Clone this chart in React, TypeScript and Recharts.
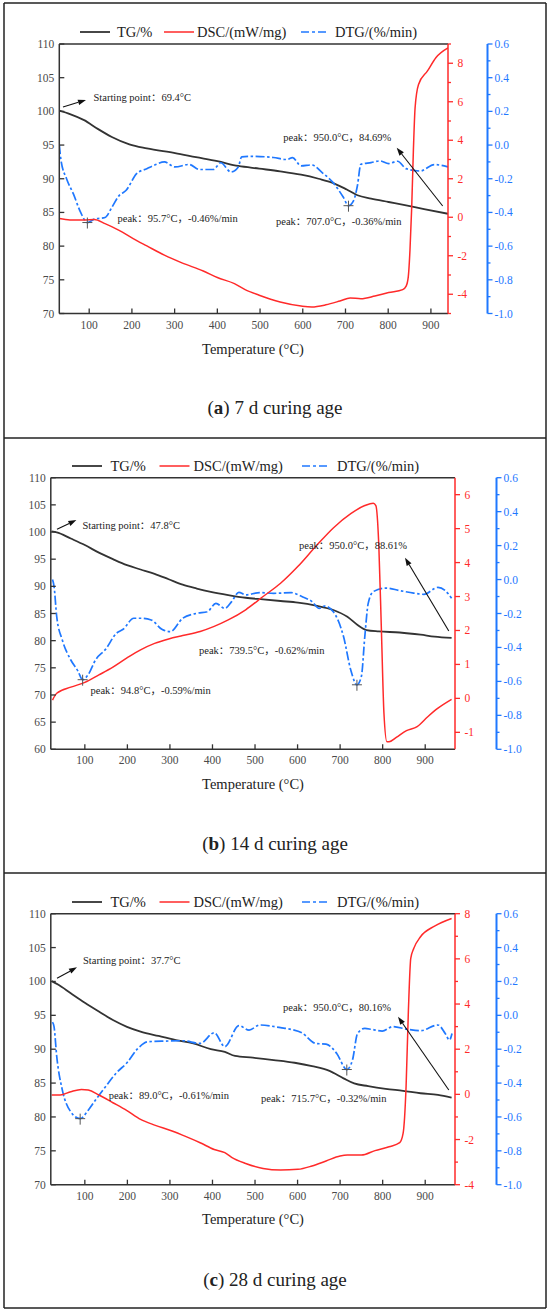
import React from 'react';
import { ComposedChart, Line, XAxis, YAxis, ReferenceLine, ReferenceDot } from 'recharts';

const SERIF = "'Liberation Serif', 'Noto Sans CJK SC', 'Times New Roman', serif";
const C_TG = '#333333';
const C_DSC = '#ff2a2a';
const C_DTG = '#1f78ff';
const C_AX = '#333333';
const C_LBL = '#4a4a4a';

// ---------- (a) 7 d ----------
const tg7 = [[30,100.1],[55,99.6],[88,98.7],[120,97.4],[153,96.2],[194,95.1],[235,94.5],[301,93.8],[350,93.2],[400,92.6],[449,91.9],[498,91.5],[547,91.1],[596,90.6],[637,90.0],[670,89.4],[703,88.4],[728,87.55],[760,87.05],[801,86.55],[842,86.05],[884,85.5],[940,84.8]];
const dsc7 = [[30,-0.07],[55,-0.14],[88,-0.14],[112,-0.12],[137,-0.33],[170,-0.68],[203,-1.11],[235,-1.49],[276,-1.97],[317,-2.37],[367,-2.79],[400,-3.13],[440,-3.45],[465,-3.76],[498,-4.05],[547,-4.4],[596,-4.61],[621,-4.66],[654,-4.55],[687,-4.35],[711,-4.19],[736,-4.23],[769,-4.09],[801,-3.91],[834,-3.76],[842,-3.58],[847,-3.1],[851,-1.7],[855,0.5],[859,3.5],[863,5.7],[871,6.9],[892,7.6],[912,8.3],[940,8.8]];
const dtg7 = [[30,0.0],[34,-0.09],[47,-0.2],[63,-0.29],[80,-0.4],[95.7,-0.46],[112,-0.44],[137,-0.43],[153,-0.37],[170,-0.3],[186,-0.27],[211,-0.17],[235,-0.14],[252,-0.12],[276,-0.1],[301,-0.13],[334,-0.115],[358,-0.145],[391,-0.145],[408,-0.105],[432,-0.16],[449,-0.13],[457,-0.07],[481,-0.067],[531,-0.074],[563,-0.086],[576,-0.074],[596,-0.124],[621,-0.118],[646,-0.165],[670,-0.22],[695,-0.31],[707,-0.36],[719,-0.33],[728,-0.24],[736,-0.114],[760,-0.104],[781,-0.094],[801,-0.11],[822,-0.096],[842,-0.14],[875,-0.154],[908,-0.116],[940,-0.13]];
const peaks7 = [[95.7,-0.46],[707.0,-0.36]];

// ---------- (b) 14 d ----------
const tg14 = [[22,100.1],[34,99.95],[67,98.8],[100,97.6],[133,96.2],[166,95.0],[199,93.9],[231,93.1],[264,92.3],[297,91.3],[330,90.3],[363,89.6],[396,89.0],[437,88.4],[478,87.9],[519,87.6],[560,87.3],[601,87.0],[643,86.45],[684,85.65],[717,84.4],[741,82.9],[762,81.95],[791,81.7],[840,81.5],[889,81.1],[922,80.75],[962,80.5]];
const dsc14 = [[24,-0.05],[34,0.15],[67,0.33],[100,0.47],[133,0.69],[166,0.92],[199,1.19],[231,1.43],[264,1.62],[297,1.75],[330,1.85],[371,1.97],[404,2.12],[437,2.31],[478,2.61],[519,3.0],[560,3.39],[601,3.89],[643,4.48],[684,5.02],[725,5.44],[758,5.68],[778,5.75],[784,5.68],[791,4.48],[797,2.02],[803,-0.44],[810,-1.28],[815,-1.28],[832,-1.15],[856,-0.95],[881,-0.83],[906,-0.54],[930,-0.29],[962,-0.03]];
const dtg14 = [[24,0.0],[27.6,-0.04],[34,-0.22],[47,-0.356],[67,-0.474],[84,-0.54],[94.8,-0.59],[108,-0.56],[125,-0.474],[149,-0.41],[174,-0.317],[190,-0.293],[215,-0.228],[231,-0.228],[256,-0.238],[281,-0.293],[301,-0.307],[330,-0.228],[363,-0.199],[388,-0.19],[408,-0.14],[429,-0.17],[445,-0.13],[462,-0.075],[478,-0.09],[511,-0.077],[544,-0.081],[585,-0.077],[610,-0.1],[634,-0.13],[651,-0.17],[663,-0.156],[684,-0.19],[708,-0.336],[725,-0.533],[739.5,-0.62],[750,-0.57],[758,-0.336],[766,-0.14],[778,-0.071],[807,-0.05],[840,-0.065],[873,-0.08],[897,-0.087],[930,-0.046],[947,-0.065],[962,-0.11]];
const peaks14 = [[94.8,-0.59],[739.5,-0.62]];

// ---------- (c) 28 d ----------
const tg28 = [[22,100.05],[38,99.5],[67,98.25],[100,96.85],[133,95.55],[166,94.3],[199,93.3],[231,92.6],[273,91.95],[314,91.35],[355,90.85],[396,90.0],[429,89.6],[453,89.0],[495,88.75],[544,88.4],[593,88.0],[634,87.5],[675,86.8],[708,85.7],[733,84.95],[766,84.55],[807,84.15],[848,83.85],[889,83.5],[930,83.25],[962,82.85]];
const dsc28 = [[22,-0.03],[42,-0.03],[67,0.12],[92,0.22],[108,0.19],[133,-0.03],[166,-0.37],[199,-0.72],[231,-1.11],[264,-1.36],[305,-1.62],[338,-1.87],[371,-2.14],[404,-2.44],[429,-2.58],[445,-2.79],[478,-3.06],[519,-3.28],[560,-3.35],[601,-3.32],[634,-3.17],[667,-2.95],[700,-2.73],[717,-2.69],[750,-2.69],[782,-2.49],[815,-2.32],[840,-2.14],[848,-1.73],[855,0.34],[860.5,3.73],[866,6.02],[873,6.46],[889,6.98],[922,7.45],[962,7.79]];
const dtg28 = [[24,-0.04],[27.6,-0.067],[34,-0.244],[47,-0.44],[67,-0.57],[89,-0.61],[108,-0.56],[125,-0.5],[149,-0.42],[174,-0.34],[199,-0.28],[223,-0.2],[248,-0.156],[289,-0.152],[330,-0.15],[371,-0.166],[404,-0.103],[429,-0.185],[462,-0.061],[486,-0.087],[511,-0.057],[560,-0.073],[585,-0.083],[610,-0.103],[643,-0.166],[667,-0.17],[692,-0.225],[715.7,-0.32],[729,-0.264],[741,-0.107],[758,-0.077],[774,-0.083],[799,-0.093],[823.5,-0.067],[856,-0.081],[889,-0.091],[930,-0.057],[947,-0.107],[957,-0.146],[963,-0.107]];
const peaks28 = [[89.0,-0.61],[715.7,-0.32]];

// ---------- ticks ----------
const xTicks = [100,200,300,400,500,600,700,800,900];
const tgTicks7 = [70,75,80,85,90,95,100,105,110];
const tgTicks14 = [60,65,70,75,80,85,90,95,100,105,110];
const tgTicks28 = [70,75,80,85,90,95,100,105,110];
const dscMajor7 = [-4,-2,0,2,4,6,8];
const dscMinor7 = [-5,-3,-1,1,3,5,7,9];
const dscMajor14 = [-1,0,1,2,3,4,5,6];
const dscMinor14: number[] = [];
const dscMajor28 = [-4,-2,0,2,4,6,8];
const dscMinor28 = [-3,-1,1,3,5,7];
const dtgMajor = [-1,-0.8,-0.6,-0.4,-0.2,0,0.2,0.4,0.6];
const dtgMinor = [-0.9,-0.7,-0.5,-0.3,-0.1,0.1,0.3,0.5];

const toPts = (arr: number[][]) => arr.map(([t, v]) => ({ t, v }));

const panels = [
  { top: 3, margin: { top: 41, right: 22.5, bottom: 94.5, left: 19.3 }, dscW: 39.5,
    xDomain: [30, 940], tgDomain: [70, 110], tgTicks: tgTicks7, dscDomain: [-5, 9],
    dscMajor: dscMajor7, dscMinor: dscMinor7, tg: tg7, dsc: dsc7, dtg: dtg7, peaks: peaks7 },
  { top: 438, margin: { top: 39.7, right: 13.5, bottom: 93.7, left: 10.8 }, dscW: 41.5,
    xDomain: [20, 970], tgDomain: [60, 110], tgTicks: tgTicks14, dscDomain: [-1.5, 6.5],
    dscMajor: dscMajor14, dscMinor: dscMinor14, tg: tg14, dsc: dsc14, dtg: dtg14, peaks: peaks14 },
  { top: 873, margin: { top: 40.7, right: 13.5, bottom: 93.3, left: 10.8 }, dscW: 41.5,
    xDomain: [20, 970], tgDomain: [70, 110], tgTicks: tgTicks28, dscDomain: [-4, 8],
    dscMajor: dscMajor28, dscMinor: dscMinor28, tg: tg28, dsc: dsc28, dtg: dtg28, peaks: peaks28 },
];

const isIn = (arr: number[], v: number) => arr.some((m) => Math.abs(m - v) < 1e-6);

const LeftTick = (props: any) => {
  const { x, y, payload } = props;
  return (
    <g>
      <line x1={x} x2={x + 5} y1={y} y2={y} stroke={C_AX} strokeWidth={1.3} />
      <text x={x - 5} y={y} dy={4} textAnchor="end" fontSize={11.5} fill={C_LBL} fontFamily={SERIF}>
        {payload.value}
      </text>
    </g>
  );
};

const BottomTick = (props: any) => {
  const { x, y, payload } = props;
  return (
    <g>
      <line x1={x} x2={x} y1={y} y2={y - 5} stroke={C_AX} strokeWidth={1.3} />
      <text x={x} y={y + 15} textAnchor="middle" fontSize={11.5} fill={C_LBL} fontFamily={SERIF}>
        {payload.value}
      </text>
    </g>
  );
};

const makeRightTick = (majors: number[], color: string, fmt: (v: number) => string, gap: number) =>
  (props: any) => {
    const { x, y, payload } = props;
    const v = payload.value;
    const major = isIn(majors, v);
    return (
      <g>
        <line x1={x} x2={x + (major ? 5 : 3)} y1={y} y2={y} stroke={color} strokeWidth={1.3} />
        {major && (
          <text x={x + gap} y={y} dy={4} textAnchor="start" fontSize={11.5} fill={color} fontFamily={SERIF}>
            {fmt(v)}
          </text>
        )}
      </g>
    );
  };

const Cross = (props: any) => {
  const { cx, cy } = props;
  return (
    <g>
      <line x1={cx - 5} x2={cx + 5} y1={cy} y2={cy} stroke="#555" strokeWidth={1} />
      <line x1={cx} x2={cx} y1={cy - 5} y2={cy + 6} stroke="#555" strokeWidth={1} />
    </g>
  );
};

const Panel = ({ p }: { p: any }) => {
  const dscTicks = [...p.dscMajor, ...p.dscMinor].sort((a: number, b: number) => a - b);
  const dtgTicks = [...dtgMajor, ...dtgMinor].sort((a, b) => a - b);
  return (
    <div style={{ position: 'absolute', left: 0, top: p.top, width: 550, height: 435 }}>
      <ComposedChart width={550} height={435} margin={p.margin}>
        <XAxis
          dataKey="t" type="number" domain={p.xDomain} ticks={xTicks} allowDataOverflow
          interval={0} tickSize={0} tickMargin={0} height={30}
          axisLine={{ stroke: C_AX, strokeWidth: 1.5 }} tickLine={false} tick={<BottomTick />}
        />
        <YAxis
          yAxisId="tg" orientation="left" type="number" domain={p.tgDomain} ticks={p.tgTicks}
          allowDataOverflow interval={0} width={40} tickSize={0} tickMargin={0}
          axisLine={{ stroke: C_AX, strokeWidth: 1.5 }} tickLine={false} tick={<LeftTick />}
        />
        <YAxis
          yAxisId="dsc" orientation="right" type="number" domain={p.dscDomain} ticks={dscTicks}
          allowDataOverflow interval={0} width={p.dscW} tickSize={0} tickMargin={0}
          axisLine={{ stroke: C_DSC, strokeWidth: 1.5 }} tickLine={false}
          tick={makeRightTick(p.dscMajor, C_DSC, (v) => String(v), 9.5)}
        />
        <YAxis
          yAxisId="dtg" orientation="right" type="number" domain={[-1, 0.6]} ticks={dtgTicks}
          allowDataOverflow interval={0} width={40} tickSize={0} tickMargin={0}
          axisLine={{ stroke: C_DTG, strokeWidth: 2 }} tickLine={false}
          tick={makeRightTick(dtgMajor, C_DTG, (v) => v.toFixed(1), 7)}
        />
        <ReferenceLine yAxisId="tg" y={p.tgDomain[1]} stroke={C_AX} strokeWidth={1.5} />
        <Line yAxisId="tg" data={toPts(p.tg)} dataKey="v" type="monotone" stroke={C_TG}
          strokeWidth={1.8} dot={false} isAnimationActive={false} />
        <Line yAxisId="dtg" data={toPts(p.dtg)} dataKey="v" type="monotone" stroke={C_DTG}
          strokeWidth={1.7} strokeDasharray="9 2.5 2.5 2.5" dot={false} isAnimationActive={false} />
        <Line yAxisId="dsc" data={toPts(p.dsc)} dataKey="v" type="monotone" stroke={C_DSC}
          strokeWidth={1.5} dot={false} isAnimationActive={false} />
        {p.peaks.map((pk: number[], i: number) => (
          <ReferenceDot key={i} yAxisId="dtg" x={pk[0]} y={pk[1]} r={5} shape={<Cross />} />
        ))}
      </ComposedChart>
    </div>
  );
};

// ---------- decorations (legend, labels, annotations) ----------
const legends = [
  { y: 32, tg: [80, 110, 117], dsc: [164, 194, 197], dtg: [301, 328, 335] },
  { y: 466, tg: [72, 102, 110.5], dsc: [159.5, 189.5, 193.5], dtg: [302, 329.5, 337] },
  { y: 902, tg: [72, 102, 110.5], dsc: [159.5, 189.5, 193.5], dtg: [302, 329.5, 337] },
];
const xLabelY = [349, 784, 1219];
const titles = [
  { y: 407, letter: 'a', rest: ' 7 d curing age' },
  { y: 843, letter: 'b', rest: ' 14 d curing age' },
  { y: 1279, letter: 'c', rest: ' 28 d curing age' },
];
const notes = [
  { x: 93.5, y: 97, s: 'Starting point：69.4°C' },
  { x: 117.5, y: 218, s: 'peak：95.7°C，-0.46%/min' },
  { x: 276, y: 221.7, s: 'peak：707.0°C，-0.36%/min' },
  { x: 283.3, y: 137.3, s: 'peak：950.0°C，84.69%' },
  { x: 82.4, y: 525, s: 'Starting point：47.8°C' },
  { x: 90.5, y: 690, s: 'peak：94.8°C，-0.59%/min' },
  { x: 199, y: 650, s: 'peak：739.5°C，-0.62%/min' },
  { x: 299, y: 545, s: 'peak：950.0°C，88.61%' },
  { x: 83, y: 960.7, s: 'Starting point：37.7°C' },
  { x: 108.7, y: 1095.3, s: 'peak：89.0°C，-0.61%/min' },
  { x: 261, y: 1098, s: 'peak：715.7°C，-0.32%/min' },
  { x: 283, y: 1007.3, s: 'peak：950.0°C，80.16%' },
];
const arrows = [
  [63, 107, 86, 100], [442.7, 206, 396.7, 147.7],
  [57, 529.3, 76.4, 520], [448.8, 631, 405, 557.7],
  [57, 978.3, 77, 967.3], [448.8, 1090, 398, 1016.7],
];

const Arrow = ({ a }: { a: number[] }) => {
  const [x1, y1, x2, y2] = a;
  const ang = Math.atan2(y2 - y1, x2 - x1);
  const L = 8, W = 2.8;
  const bx = x2 - L * Math.cos(ang), by = y2 - L * Math.sin(ang);
  const px = -Math.sin(ang) * W, py = Math.cos(ang) * W;
  return (
    <g>
      <line x1={x1} y1={y1} x2={bx} y2={by} stroke="#111" strokeWidth={1.1} />
      <polygon points={`${x2},${y2} ${bx + px},${by + py} ${bx - px},${by - py}`} fill="#111" />
    </g>
  );
};

const Overlay = () => (
  <svg width={550} height={1313} style={{ position: 'absolute', left: 0, top: 0, pointerEvents: 'none' }}>
    {[3, 438, 873, 1308].map((y) => (
      <line key={y} x1={4} x2={546} y1={y} y2={y} stroke="#222" strokeWidth={1.5} />
    ))}
    <line x1={4} x2={4} y1={3} y2={1308} stroke="#222" strokeWidth={1.5} />
    <line x1={546} x2={546} y1={3} y2={1308} stroke="#222" strokeWidth={1.5} />
    {legends.map((l, i) => (
      <g key={i} fontFamily={SERIF} fontSize={14.5} fill="#222">
        <line x1={l.tg[0]} x2={l.tg[1]} y1={l.y} y2={l.y} stroke={C_TG} strokeWidth={1.8} />
        <text x={l.tg[2]} y={l.y} dy="0.35em">TG/%</text>
        <line x1={l.dsc[0]} x2={l.dsc[1]} y1={l.y} y2={l.y} stroke={C_DSC} strokeWidth={1.5} />
        <text x={l.dsc[2]} y={l.y} dy="0.35em">DSC/(mW/mg)</text>
        <line x1={l.dtg[0]} x2={l.dtg[1]} y1={l.y} y2={l.y} stroke={C_DTG} strokeWidth={1.7} strokeDasharray="8 3 3 3" />
        <text x={l.dtg[2]} y={l.y} dy="0.35em">DTG/(%/min)</text>
      </g>
    ))}
    {xLabelY.map((y, i) => (
      <text key={i} x={253} y={y} dy="0.35em" textAnchor="middle" fontFamily={SERIF} fontSize={14.5} fill="#222">
        Temperature (°C)
      </text>
    ))}
    {titles.map((t, i) => (
      <text key={i} x={275} y={t.y} dy="0.35em" textAnchor="middle" fontFamily={SERIF} fontSize={19} fill="#222">
        (<tspan fontWeight="bold">{t.letter}</tspan>){t.rest}
      </text>
    ))}
    {notes.map((n, i) => (
      <text key={i} x={n.x} y={n.y} dy="0.35em" fontFamily={SERIF} fontSize={10.5} fill="#222">
        {n.s}
      </text>
    ))}
    {arrows.map((a, i) => <Arrow key={i} a={a} />)}
  </svg>
);

export default function App() {
  return (
    <div style={{ position: 'absolute', left: 0, top: 0, width: 550, height: 1313, background: '#fff', fontFamily: SERIF }}>
      {panels.map((p, i) => <Panel key={i} p={p} />)}
      <Overlay />
    </div>
  );
}
